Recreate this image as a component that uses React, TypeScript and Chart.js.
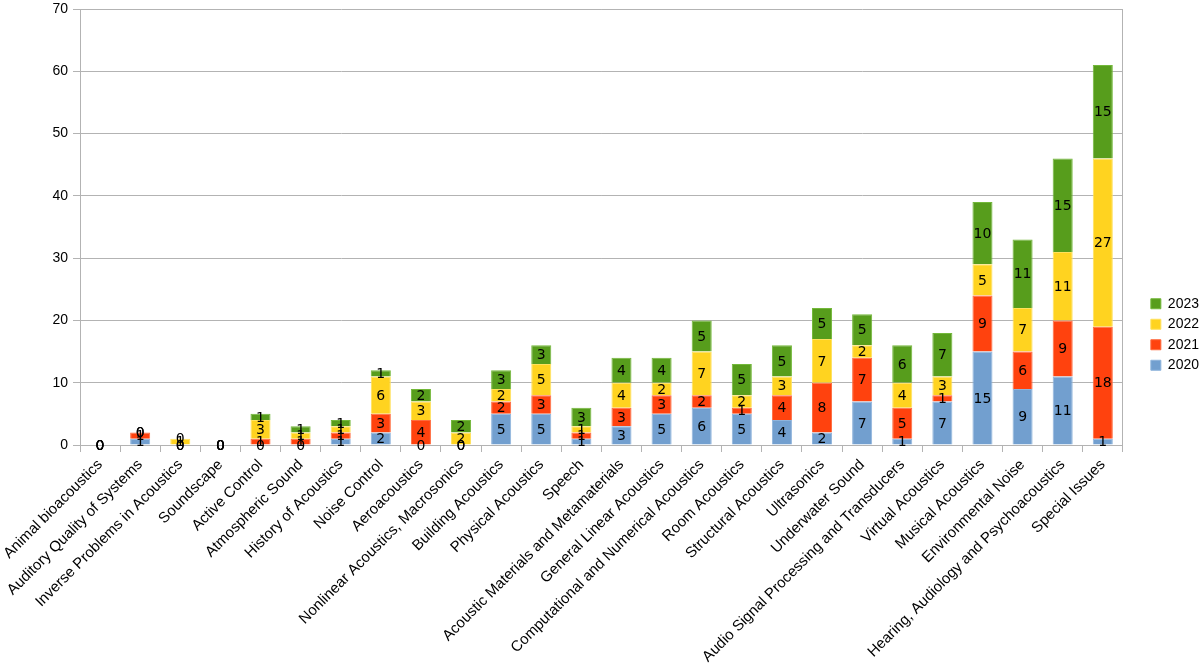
import React, { useEffect, useRef } from "react";
import { Chart, registerables } from "chart.js";

Chart.register(...registerables);

const categories = [
  "Animal bioacoustics",
  "Auditory Quality of Systems",
  "Inverse Problems in Acoustics",
  "Soundscape",
  "Active Control",
  "Atmospheric Sound",
  "History of Acoustics",
  "Noise Control",
  "Aeroacoustics",
  "Nonlinear Acoustics, Macrosonics",
  "Building Acoustics",
  "Physical Acoustics",
  "Speech",
  "Acoustic Materials and Metamaterials",
  "General Linear Acoustics",
  "Computational and Numerical Acoustics",
  "Room Acoustics",
  "Structural Acoustics",
  "Ultrasonics",
  "Underwater Sound",
  "Audio Signal Processing and Transducers",
  "Virtual Acoustics",
  "Musical Acoustics",
  "Environmental Noise",
  "Hearing, Audiology and Psychoacoustics",
  "Special Issues",
];

const values2020 = [0, 1, 0, 0, 0, 0, 1, 2, 0, 0, 5, 5, 1, 3, 5, 6, 5, 4, 2, 7, 1, 7, 15, 9, 11, 1];
const values2021 = [0, 1, 0, 0, 1, 1, 1, 3, 4, 0, 2, 3, 1, 3, 3, 2, 1, 4, 8, 7, 5, 1, 9, 6, 9, 18];
const values2022 = [0, 0, 1, 0, 3, 1, 1, 6, 3, 2, 2, 5, 1, 4, 2, 7, 2, 3, 7, 2, 4, 3, 5, 7, 11, 27];
const values2023 = [0, 0, 0, 0, 1, 1, 1, 1, 2, 2, 3, 3, 3, 4, 4, 5, 5, 5, 5, 5, 6, 7, 10, 11, 15, 15];

const seriesNames = ["2020", "2021", "2022", "2023"];
const yTicks = [0, 10, 20, 30, 40, 50, 60, 70];

const GRID = "#b3b3b3";
const LABEL_FONT = "'Liberation Sans', Arial, sans-serif";

const valueLabels = {
  id: "valueLabels",
  afterDatasetsDraw(chart: any) {
    const ctx = chart.ctx;
    ctx.save();
    ctx.font = "14px 'DejaVu Sans', sans-serif";
    ctx.fillStyle = "#000000";
    ctx.textAlign = "center";
    ctx.textBaseline = "middle";
    chart.data.datasets.forEach((ds: any, i: number) => {
      const meta = chart.getDatasetMeta(i);
      meta.data.forEach((bar: any, j: number) => {
        const p = bar.getProps(["x", "y", "base"], true);
        ctx.fillText(String(ds.data[j]), p.x, (p.y + p.base) / 2 + 1);
      });
    });
    ctx.restore();
  },
};

export default function App() {
  const ref = useRef<HTMLCanvasElement | null>(null);

  useEffect(() => {
    document.body.style.margin = "0";
    if (!ref.current) return;
    const colors = ["#729fcf", "#ff420e", "#ffd320", "#579d1c"];
    const borders = ["#8fb4dc", "#ff6a3d", "#ffe15c", "#73b83a"];
    const series = [values2020, values2021, values2022, values2023];
    const chart = new Chart(ref.current, {
      type: "bar",
      data: {
        labels: categories,
        datasets: series.map((d, i) => ({
          label: seriesNames[i],
          data: d,
          backgroundColor: colors[i],
          borderColor: borders[i],
          borderWidth: 1,
          barPercentage: 0.5,
          categoryPercentage: 1,
          yAxisID: "y",
        })),
      },
      options: {
        responsive: false,
        animation: false,
        devicePixelRatio: 1,
        layout: { padding: { top: 0, right: -9, bottom: 0, left: 0 } },
        plugins: {
          legend: {
            position: "right",
            reverse: true,
            labels: {
              boxWidth: 10,
              boxHeight: 10,
              padding: 6.5,
              color: "#000000",
              font: { family: LABEL_FONT, size: 14 },
            },
          },
          tooltip: { enabled: false },
        },
        scales: {
          x: {
            stacked: true,
            offset: true,
            grid: {
              display: true,
              drawOnChartArea: false,
              drawTicks: true,
              tickLength: 7,
              color: GRID,
              offset: true,
            },
            border: { display: true, color: GRID },
            ticks: {
              autoSkip: false,
              maxRotation: 45,
              minRotation: 45,
              padding: 4,
              color: "#000000",
              font: { family: LABEL_FONT, size: 15 },
            },
            afterFit: (s: any) => {
              s.height = 224;
            },
          },
          y: {
            stacked: true,
            min: 0,
            max: 70,
            afterBuildTicks: (s: any) => {
              s.ticks = yTicks.map((v) => ({ value: v }));
            },
            grid: { color: GRID, tickLength: 7 },
            border: { display: true, color: GRID },
            ticks: {
              padding: 5,
              color: "#000000",
              font: { family: LABEL_FONT, size: 14 },
            },
            afterFit: (s: any) => {
              s.width = 80;
              s.paddingTop = 9;
            },
          },
          yRight: {
            type: "linear",
            position: "right",
            display: true,
            grid: { display: false },
            border: { display: true, color: GRID },
            ticks: { display: false },
            afterFit: (s: any) => {
              s.width = 21.5;
            },
          },
        },
      },
      plugins: [valueLabels],
    } as any);
    return () => chart.destroy();
  }, []);

  return (
    <div style={{ width: 1200, height: 669, position: "relative" }}>
      <canvas ref={ref} width={1200} height={669} style={{ width: 1200, height: 669, display: "block" }} />
    </div>
  );
}
